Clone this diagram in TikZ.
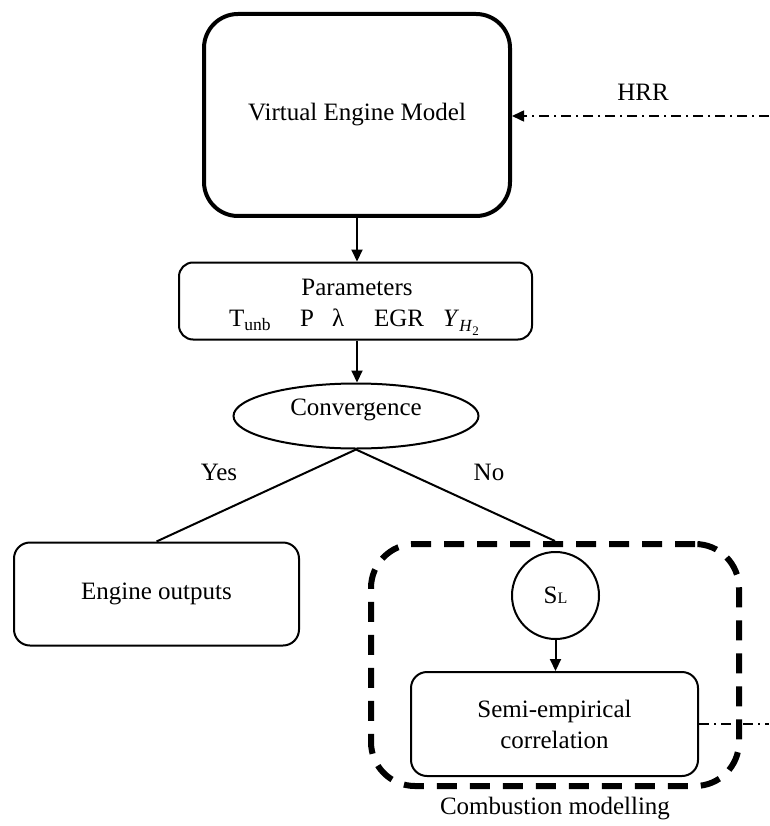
\documentclass[tikz,border=0pt]{standalone}
\usepackage{fontspec}
\setmainfont{Liberation Serif}
\usetikzlibrary{shapes.geometric,arrows.meta}
\newcommand{\subtxt}[2]{\raisebox{#1}{\fontsize{#2}{#2}\selectfont}}
\begin{document}
\begin{tikzpicture}[x=1pt,y=-1pt,
  every node/.style={font=\fontsize{25}{32}\selectfont, inner sep=0pt},
  rbox/.style={draw, line width=2pt, rounded corners=16pt, align=center},
  conn/.style={line width=2pt},
  arr/.style={conn, -{Triangle[length=12pt,width=11pt]}},
  dashdot/.style={line width=1.6pt, dash pattern=on 10pt off 5pt on 2pt off 5pt}]
\useasboundingbox (0,0) rectangle (769,826);
% nodes
\node[rbox, line width=4pt, rounded corners=34pt, minimum width=306pt, minimum height=202pt] (vem) at (357,115) {Virtual Engine Model};
\node[rbox, rounded corners=14pt, minimum width=353pt, minimum height=77pt] (par) at (355.5,301) {};
\node (partitle) at (357,287) {Parameters};
\node (parvars) at (354,322) {T\textsubscript{unb}\hspace{29pt}P\hspace{18pt}λ\hspace{30pt}EGR\hspace{19pt}\textit{Y}\raisebox{-5pt}{\fontsize{17}{17}\selectfont\textit{H}\raisebox{-4pt}{\fontsize{13}{13}\selectfont 2}}};
\node[draw, ellipse, line width=2pt, minimum width=245pt, minimum height=65pt] (conv) at (356,416) {};
\node (convtext) at (356,410) {Convergence};
\node (yes) at (219,472) {Yes};
\node (no) at (489,472) {No};
\node[rbox, minimum width=285pt, minimum height=103pt] (eng) at (156.5,594) {Engine outputs};
\node[draw, line width=6pt, dash pattern=on 20pt off 13pt, rounded corners=44pt, minimum width=368pt, minimum height=242pt] (comb) at (555,665) {};
\node[draw, circle, line width=2pt, minimum size=87pt] (sl) at (555.5,595.5) {S{\fontsize{16}{16}\selectfont L}};
\node[rbox, minimum width=287pt, minimum height=104pt] (semi) at (554.5,724) {Semi-empirical\\[-1pt]correlation};
\node (combtext) at (555,809) {Combustion modelling};
\node (hrr) at (643,92) {HRR};
\coordinate (hrrsrc) at (769,116);
\coordinate (semiout) at (769,724);
% connectors
\draw[arr] (vem.south) -- (vem.south |- par.north);
\draw[arr] (vem.south |- par.south) -- (vem.south |- conv.north);
\draw[conn] (conv.south) -- (eng.north);
\draw[conn] (conv.south) -- (comb.north);
\draw[arr] (sl.south) -- (sl.south |- semi.north);
\draw[dashdot, -{Triangle[length=12pt,width=11pt]}] (hrrsrc) -- (vem.east |- hrrsrc);
\draw[dashdot] (semi.east) -- (semiout);
\end{tikzpicture}
\end{document}
